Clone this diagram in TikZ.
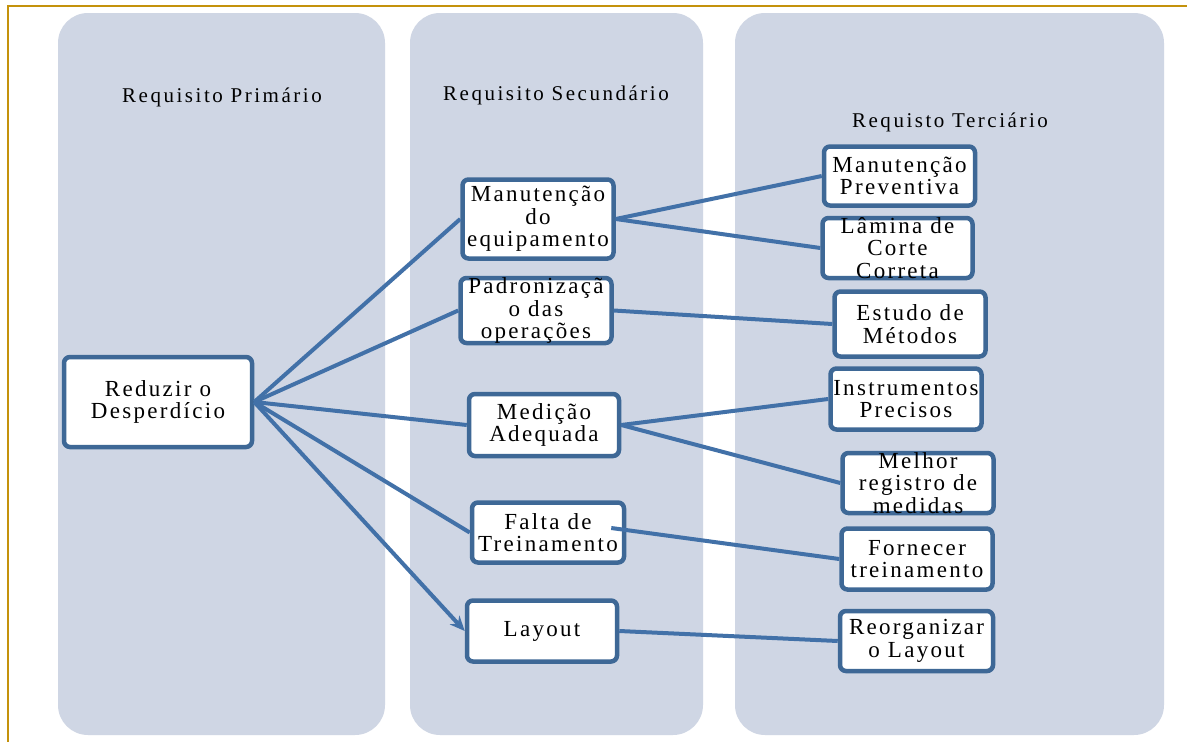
\documentclass[tikz,border=0pt]{standalone}
\usepackage{fontspec}
\setmainfont{Liberation Serif}
\usetikzlibrary{arrows.meta}
\definecolor{colfill}{RGB}{207,214,228}
\definecolor{boxline}{RGB}{62,104,150}
\definecolor{linkline}{RGB}{66,113,168}
\definecolor{frameline}{RGB}{196,146,12}
\begin{document}
\begin{tikzpicture}[x=1pt,y=-1pt,
  column/.style={fill=colfill,rounded corners=30pt},
  header/.style={font=\fontsize{21}{23}\selectfont\addfontfeature{LetterSpace=12}},
  card/.style={draw=boxline,line width=4.5pt,fill=white,rounded corners=6pt,inner sep=0pt},
  label/.style={align=center,inner sep=0pt,font=\fontsize{23}{22.5}\selectfont\addfontfeature{LetterSpace=10}},
  link/.style={draw=linkline,line width=4pt},
]
\useasboundingbox[fill=white] (0,0) rectangle (1187,742);
% frame lines
\draw[frameline,line width=2pt] (1187,6) -- (8,6) -- (8,742);
% columns
\fill[column] (58,13) rectangle (385,735);
\fill[column] (410,13) rectangle (703,735);
\fill[column] (735,13) rectangle (1164,735);
% headers
\node[header] (h1) at (222,97) {Requisito Primário};
\node[header] (h2) at (556,95) {Requisito Secundário};
\node[header] (h3) at (950,122) {Requisto Terciário};
% primary
\node[card,minimum width=188pt,minimum height=90pt] (red) at (158,402) {};
\node[label] at (red) {Reduzir o\\Desperdício};
% secondary
\node[card,minimum width=151pt,minimum height=79pt] (s1) at (538,219) {};
\node[label] at (s1) {Manutenção\\do\\equipamento};
\node[card,minimum width=151pt,minimum height=65pt] (s2) at (536,310.5) {};
\node[label] at (s2) {Padronizaçã\\o das\\operações};
\node[card,minimum width=150pt,minimum height=62pt] (s3) at (544,425) {};
\node[label] at (s3) {Medição\\Adequada};
\node[card,minimum width=152pt,minimum height=60pt] (s4) at (548,532.5) {};
\node[label] at (s4) {Falta de\\Treinamento};
\node[card,minimum width=150pt,minimum height=61pt] (s5) at (542,631) {};
\node[label] at (s5) {Layout};
% tertiary
\node[card,minimum width=151pt,minimum height=59pt] (t1) at (899.5,176) {};
\node[label] at (t1) {Manutenção\\Preventiva};
\node[card,minimum width=150pt,minimum height=60pt] (t2) at (897.5,248) {};
\node[label] at (t2) {Lâmina de\\Corte\\Correta};
\node[card,minimum width=151pt,minimum height=65pt] (t3) at (910,324) {};
\node[label] at (t3) {Estudo de\\Métodos};
\node[card,minimum width=151pt,minimum height=61pt] (t4) at (906,399) {};
\node[label] at (t4) {Instrumentos\\Precisos};
\node[card,minimum width=151pt,minimum height=60pt] (t5) at (918,483) {};
\node[label] at (t5) {Melhor\\registro de\\medidas};
\node[card,minimum width=151pt,minimum height=61pt] (t6) at (917,559) {};
\node[label] at (t6) {Fornecer\\treinamento};
\node[card,minimum width=153pt,minimum height=60pt] (t7) at (916.5,641) {};
\node[label] at (t7) {Reorganizar\\o Layout};
% connectors from the primary requirement
\draw[link] (red.east) -- (s1.west);
\draw[link] (red.east) -- (s2.west);
\draw[link] (red.east) -- (s3.west);
\draw[link] (red.east) -- (s4.west);
\draw[link,-{Stealth[length=15pt,width=13pt]}] (red.east) -- (s5.west);
% connectors from secondary to tertiary
\draw[link] (s1.east) -- (t1.west);
\draw[link] (s1.east) -- (t2.west);
\draw[link] (s2.east) -- (t3.west);
\draw[link] (s3.east) -- (t4.west);
\draw[link] (s3.east) -- (t5.west);
\draw[link] ([xshift=-15pt,yshift=4.5pt]s4.east) -- (t6.west);
\draw[link] (s5.east) -- (t7.west);
\end{tikzpicture}
\end{document}
